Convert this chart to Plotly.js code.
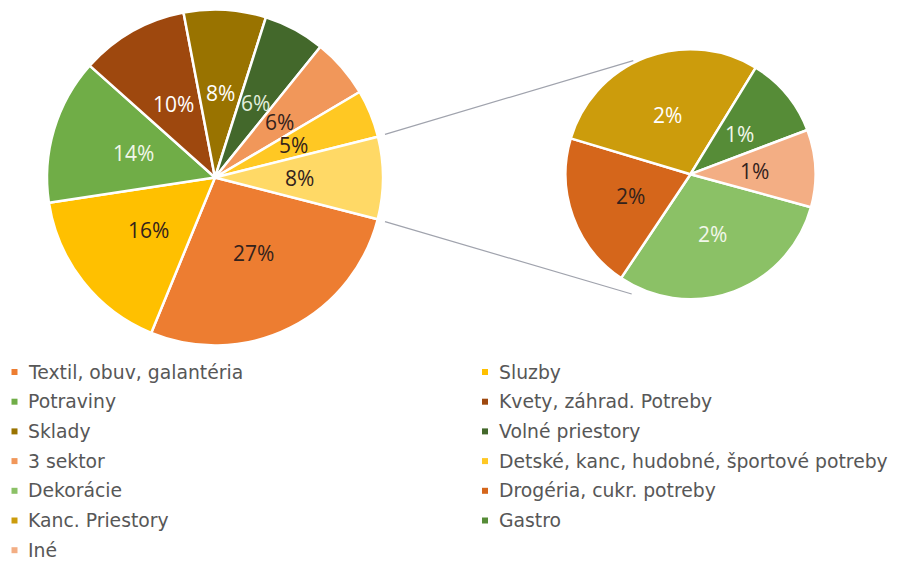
<!DOCTYPE html>
<html>
<head>
<meta charset="utf-8">
<script src="https://cdn.plot.ly/plotly-3.0.1.min.js"></script>
<style>html,body{margin:0;padding:0;background:#fff;}#chart{width:899px;height:562px;}</style>
</head>
<body>
<div id="chart"></div>
<script>
// ---- data ----
const mainLabels = ['Textil, obuv, galantéria','Sluzby','Potraviny','Kvety, záhrad. Potreby','Sklady','Volné priestory','3 sektor','Detské, kanc, hudobné, športové potreby','Ostatné'];
const mainValues = [27.2, 16.4, 14.0, 10.4, 7.9, 5.9, 5.7, 4.6, 7.9];
const mainColors = ['#ED7D31','#FFC000','#70AD47','#9E480E','#997300','#43682B','#F1975A','#FFC823','#FFD966'];
const mainTextColors = ['#33221c','#33221c','#f2f7ea','#ffffff','#ffffff','#e3eedc','#33221c','#33221c','#33221c'];

const subLabels = ['Dekorácie','Drogéria, cukr. potreby','Kanc. Priestory','Gastro','Iné'];
const subValues = [2.38, 1.60, 2.30, 0.83, 0.79];
const subColors = ['#8BC166','#D5661B','#CC9C0C','#568C37','#F3AE84'];
const subTextColors = ['#f2f7ea','#33221c','#ffffff','#f2f7ea','#33221c'];

const legendLabels = ['Textil, obuv, galantéria','Sluzby','Potraviny','Kvety, záhrad. Potreby','Sklady','Volné priestory','3 sektor','Detské, kanc, hudobné, športové potreby','Dekorácie','Drogéria, cukr. potreby','Kanc. Priestory','Gastro','Iné'];

// ---- geometry / style ----
const W = 899, H = 562;
const px = x => x / W;
const py = y => 1 - y / H;
const LABEL_FONT = 'Open Sans, sans-serif';
const LEGEND_FONT = 'DejaVu Sans, sans-serif';
const mainPie = {cx: 215, cy: 177.5, r: 168, rot: 104.4};
const subPie  = {cx: 690.5, cy: 174.2, r: 125, rot: 105.3};

const colorOf = {};
mainLabels.forEach((l,i)=>colorOf[l]=mainColors[i]);
subLabels.forEach((l,i)=>colorOf[l]=subColors[i]);

function pieTrace(labels, values, colors, g) {
  return {
    type: 'pie', labels: labels, values: values, sort: false,
    direction: 'clockwise', rotation: g.rot,
    marker: {colors: colors, line: {color: '#ffffff', width: 2.5}},
    textinfo: 'none',
    domain: {x: [px(g.cx - g.r), px(g.cx + g.r)], y: [py(g.cy + g.r), py(g.cy - g.r)]},
    showlegend: false, hoverinfo: 'label+value'
  };
}

// percentage labels placed at mid-angle of each slice, ~half radius (as in the reference)
function sliceLabels(values, textColors, g, k) {
  const total = values.reduce((a,b)=>a+b, 0);
  const grand = mainValues.reduce((a,b)=>a+b, 0);
  let cum = 0;
  return values.map((v, i) => {
    const mid = (g.rot + 360 * (cum + v / 2) / total) * Math.PI / 180;
    cum += v;
    return {
      xref:'paper', yref:'paper', showarrow:false, xanchor:'center', yanchor:'middle',
      x: px(g.cx + k * g.r * Math.sin(mid)), y: py(g.cy - k * g.r * Math.cos(mid)),
      text: Math.round(100 * v / grand) + '%',
      font: {family: LABEL_FONT, size: 21, color: textColors[i]}
    };
  });
}

const traces = [
  pieTrace(mainLabels, mainValues, mainColors, mainPie),
  pieTrace(subLabels, subValues, subColors, subPie)
];

const shapes = [
  {type:'line', xref:'paper', yref:'paper', x0: px(385), y0: py(134.3), x1: px(633.3), y1: py(60.7), line:{color:'#a0a3ad', width:1.2}},
  {type:'line', xref:'paper', yref:'paper', x0: px(385), y0: py(221.7), x1: px(631.7), y1: py(294), line:{color:'#a0a3ad', width:1.2}}
];
let annotations = [].concat(
  sliceLabels(mainValues, mainTextColors, mainPie, 0.505),
  sliceLabels(subValues, subTextColors, subPie, 0.51)
);
legendLabels.forEach((lab, i) => {
  const col = i % 2, row = Math.floor(i / 2);
  const mx = col === 0 ? 11.5 : 482;
  const tx = col === 0 ? 26 : 496.5;
  const cy = 372 + row * 29.7;
  shapes.push({type:'rect', xref:'paper', yref:'paper', x0: px(mx), x1: px(mx+6), y0: py(cy+3), y1: py(cy-3), fillcolor: colorOf[lab], line:{width:0}});
  annotations.push({xref:'paper', yref:'paper', x: px(tx), y: py(cy), xanchor:'left', yanchor:'middle', showarrow:false, text: lab, font:{family: LEGEND_FONT, size: 18.8, color:'#575757'}});
});

const layout = {
  width: W, height: H, margin: {l:0, r:0, t:0, b:0},
  paper_bgcolor: '#ffffff', plot_bgcolor: '#ffffff',
  font: {family: LABEL_FONT},
  shapes: shapes, annotations: annotations, showlegend: false
};
Plotly.newPlot('chart', traces, layout, {displayModeBar: false, staticPlot: true});
</script>
</body>
</html>
